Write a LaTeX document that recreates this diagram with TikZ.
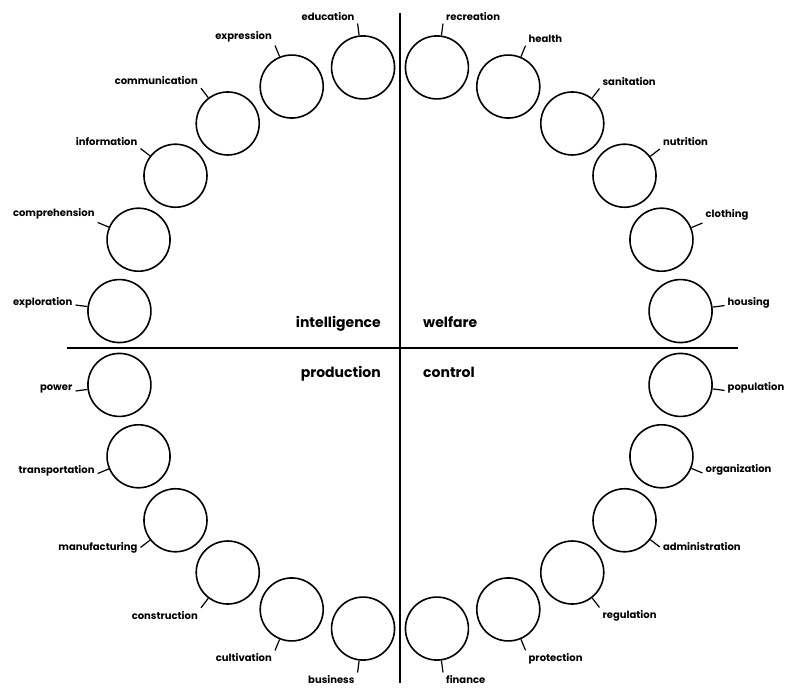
\documentclass[tikz,border=0pt]{standalone}
\usepackage{fontspec}
\setmainfont{Poppins}
\begin{document}
\begin{tikzpicture}[x=1pt,y=1pt,
    ring/.style={draw,circle,line width=1.6pt,minimum size=63pt,inner sep=0pt},
    tick/.style={line width=1.2pt},
    lbl/.style={inner sep=3pt,font=\bfseries\fontsize{10}{12}\selectfont},
    quad/.style={inner sep=0pt,font=\bfseries\fontsize{14}{16}\selectfont}]
  \useasboundingbox (-400,-339) rectangle (399,348);
  \draw[line width=2pt] (-333,0) -- (338,0);
  \draw[line width=2pt] (0,335) -- (0,-335);
  \node[quad,anchor=base east] (intelligence) at (-19,20) {intelligence};
  \node[quad,anchor=base west] (welfare) at (23,20) {welfare};
  \node[quad,anchor=base east] (production) at (-19,-30) {production};
  \node[quad,anchor=base west] (control) at (23,-30) {control};
  \foreach \a/\n/\anc in {97.5/education/south east,112.5/expression/south east,
      127.5/communication/south east,142.5/information/south east,
      157.5/comprehension/south east,172.5/exploration/base east,
      82.5/recreation/south west,67.5/health/south west,52.5/sanitation/south west,
      37.5/nutrition/south west,22.5/clothing/south west,7.5/housing/base west,
      -7.5/population/base west,-22.5/organization/base west,
      -37.5/administration/west,-52.5/regulation/north west,
      -67.5/protection/north west,-82.5/finance/north west,
      -97.5/business/north east,-112.5/cultivation/north east,
      -127.5/construction/north east,-142.5/manufacturing/east,
      -157.5/transportation/base east,-172.5/power/base east}{
    \node[ring] (\n) at (\a:283) {};
    \draw[tick] (\n.\a) -- ++(\a:12) coordinate (\n-end);
    \node[lbl,anchor=\anc] (\n-lbl) at (\n-end) {\n};
  }
\end{tikzpicture}
\end{document}
